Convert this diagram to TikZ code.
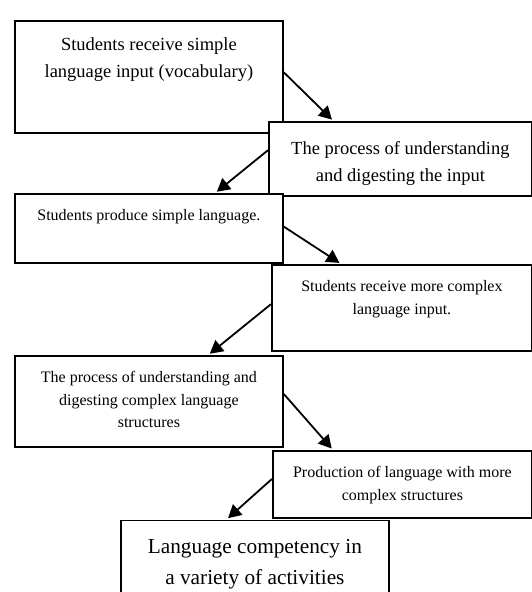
\documentclass[tikz,border=0pt]{standalone}
\usepackage{fontspec}
\setmainfont{Liberation Serif}
\usepackage{tikz}
\usetikzlibrary{arrows.meta,calc}

\tikzset{
  stage/.style={draw, fill=white, line width=1.8pt, inner sep=0pt, anchor=north west},
  large text/.style={font=\fontsize{18.5}{26.5}\selectfont},
  small text/.style={font=\fontsize{16}{22.5}\selectfont},
  final text/.style={font=\fontsize{21.3}{31.5}\selectfont},
  flow/.style={line width=1.8pt, -{Triangle[length=13pt,width=14pt]}, shorten >=2pt}
}
\newcommand{\stagetext}[4]{\parbox[c][#2][t]{#1}{\centering\rule{0pt}{#3}#4}}

\begin{document}
\begin{tikzpicture}[x=1pt,y=-1pt]
\useasboundingbox (0,0) rectangle (532,592);
\clip (0,0) rectangle (532,592);

\node[stage, large text] (b1) at (14,20)
  {\stagetext{268pt}{112pt}{30pt}{Students receive simple\\ language input (vocabulary)}};
\node[stage, large text] (b2) at (268,121)
  {\stagetext{263pt}{74pt}{33pt}{The process of understanding\\ and digesting the input}};
\node[stage, small text] (b3) at (14,193)
  {\stagetext{268pt}{69pt}{27pt}{Students produce simple language.}};
\node[stage, small text] (b4) at (271,264)
  {\stagetext{260pt}{86pt}{27pt}{Students receive more complex\\ language input.}};
\node[stage, small text] (b5) at (14,355)
  {\stagetext{268pt}{91pt}{27pt}{The process of understanding and\\ digesting complex language\\ structures}};
\node[stage, small text] (b6) at (272,450)
  {\stagetext{259pt}{67pt}{27pt}{Production of language with more\\ complex structures}};
\node[stage, final text] (b7) at (120,519.5)
  {\stagetext{268pt}{90pt}{33pt}{Language competency in\\ a variety of activities}};

\draw[flow] ($(b1.north east)!0.46!(b1.south east)$) -- ($(b2.north west)!0.247!(b2.north east)$);
\draw[flow] ($(b2.north west)!0.385!(b2.south west)$) -- ($(b3.north west)!0.746!(b3.north east)$);
\draw[flow] ($(b3.north east)!0.475!(b3.south east)$) -- ($(b4.north west)!0.268!(b4.north east)$);
\draw[flow] ($(b4.north west)!0.457!(b4.south west)$) -- ($(b5.north west)!0.72!(b5.north east)$);
\draw[flow] ($(b5.north east)!0.42!(b5.south east)$) -- ($(b6.north west)!0.234!(b6.north east)$);
\draw[flow] ($(b6.north west)!0.42!(b6.south west)$) -- ($(b7.north west)!0.395!(b7.north east)$);

\end{tikzpicture}
\end{document}
